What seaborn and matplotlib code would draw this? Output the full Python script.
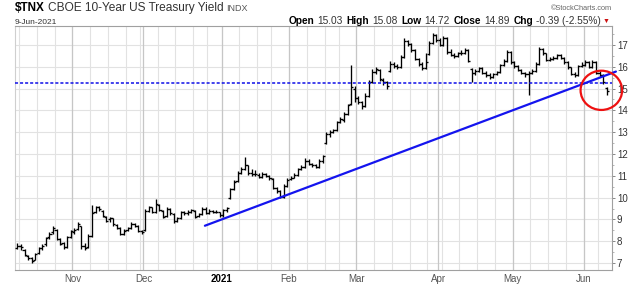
import numpy as np
import pandas as pd
import matplotlib
matplotlib.use("Agg")
import matplotlib.pyplot as plt
import seaborn as sns
from matplotlib.patches import Ellipse
from matplotlib.ticker import FixedLocator, MultipleLocator

# ---------------- data ----------------
holidays = ["2020-11-26", "2020-12-25", "2021-01-01", "2021-01-18",
            "2021-02-15", "2021-04-02", "2021-05-31"]
dates = pd.bdate_range("2020-10-09", "2021-06-09")
dates = dates[~dates.isin(pd.to_datetime(holidays))]

opens = [
    7.70, 7.78, 7.62, 7.33, 7.25, 7.15, 7.45, 7.70, 7.85, 8.18, 8.40, 8.50, 8.10, 7.90, 7.75, 8.20,
    8.40, 8.55, 8.70, 7.78, 7.75, 8.25, 9.35, 9.55, 9.40, 9.10, 9.00, 9.05, 8.75, 8.62, 8.35, 8.50, 8.60, 8.80, 8.70, 8.45,
    8.50, 9.40, 9.55, 9.35, 9.68, 9.40, 9.15, 9.48, 9.25, 8.95, 9.05, 9.35, 9.28, 9.35, 9.40, 9.15, 9.25, 9.50, 9.30, 9.40, 9.35, 9.32,
    9.18, 9.42, 9.98, 10.40, 10.75, 11.15, 11.30, 11.48, 11.15, 11.10, 11.05, 10.95, 11.10, 11.00, 10.85, 10.45, 10.30, 10.05, 10.55,
    10.85, 10.92, 11.05, 11.30, 11.40, 11.70, 11.55, 11.48, 11.42, 11.68, 12.50, 12.90, 13.00, 13.10, 13.45, 13.55, 13.85, 14.30, 15.00,
    14.55, 14.40, 14.20, 14.65, 15.30, 15.75, 15.85, 15.40, 15.30, 15.80, 16.15, 16.05, 16.00, 16.45, 17.20, 17.05, 16.75, 16.35, 16.12, 15.95, 16.60, 17.10, 17.45,
    17.22, 17.00, 17.30, 16.70, 16.55, 16.50, 16.62, 16.65, 16.75, 15.90, 15.70, 15.80, 15.95, 15.72, 15.62, 15.55, 15.65, 15.75, 16.10, 16.25, 16.68,
    16.20, 16.02, 15.85, 15.70, 15.65, 15.72, 15.80, 16.15, 16.80, 16.62, 16.30, 16.35, 16.38, 16.52, 16.40, 16.22, 15.98, 15.68, 15.62, 16.05,
    16.10, 16.22, 16.00, 16.22, 15.72, 15.62, 15.03,
]
highs = [
    7.90, 7.85, 7.65, 7.38, 7.28, 7.48, 7.72, 7.88, 8.20, 8.40, 8.70, 8.55, 8.15, 7.95, 8.22, 8.52,
    8.60, 8.90, 8.72, 7.90, 8.35, 9.65, 9.62, 9.60, 9.45, 9.15, 9.12, 9.08, 8.80, 8.65, 8.55, 8.65, 8.88, 8.85, 8.75, 8.50,
    9.48, 9.62, 9.58, 9.92, 9.72, 9.45, 9.55, 9.52, 9.28, 9.12, 9.40, 9.40, 9.42, 9.50, 9.45, 9.30, 9.58, 9.55, 9.48, 9.45, 9.42, 9.35,
    9.48, 9.58, 10.45, 10.80, 11.20, 11.40, 11.87, 11.50, 11.30, 11.25, 11.15, 11.18, 11.15, 11.05, 10.90, 10.50, 10.35, 10.62, 10.88,
    11.00, 11.15, 11.38, 11.48, 11.80, 11.75, 11.60, 11.55, 11.75, 11.95, 13.00, 13.08, 13.15, 13.50, 13.70, 13.92, 14.30, 16.10, 15.10,
    14.65, 14.45, 14.80, 15.40, 15.90, 16.00, 15.90, 15.50, 15.35, 16.25, 16.20, 16.15, 16.55, 17.30, 17.25, 17.10, 16.80, 16.40, 16.20, 16.65, 17.20, 17.55, 17.50,
    17.30, 17.40, 17.35, 16.80, 16.65, 16.70, 16.75, 16.85, 16.80, 15.95, 15.90, 16.00, 15.98, 15.80, 15.70, 15.72, 15.82, 16.15, 16.35, 16.75, 16.72,
    16.25, 16.08, 15.90, 15.75, 15.80, 15.88, 16.20, 16.90, 16.85, 16.65, 16.45, 16.48, 16.60, 16.58, 16.45, 16.25, 16.00, 15.78, 16.10, 16.20,
    16.30, 16.25, 16.30, 16.25, 15.80, 15.68, 15.08,
]
lows = [
    7.65, 7.62, 7.30, 7.15, 7.02, 7.12, 7.40, 7.62, 7.80, 8.12, 8.35, 8.05, 7.82, 7.65, 7.70, 8.15,
    8.35, 8.50, 7.65, 7.58, 7.70, 8.20, 9.30, 9.40, 9.10, 8.88, 8.90, 8.72, 8.55, 8.30, 8.30, 8.45, 8.55, 8.65, 8.42, 8.35,
    8.45, 9.35, 9.28, 9.30, 9.38, 9.05, 9.10, 9.22, 8.85, 8.90, 9.00, 9.20, 9.20, 9.30, 9.08, 9.10, 9.20, 9.25, 9.25, 9.30, 9.28, 9.12,
    9.10, 9.35, 9.95, 10.35, 10.70, 11.08, 11.25, 11.05, 11.00, 11.00, 10.88, 10.90, 10.95, 10.80, 10.40, 10.20, 10.00, 10.00, 10.50,
    10.80, 10.88, 11.00, 11.25, 11.35, 11.50, 11.40, 11.38, 11.38, 11.60, 12.45, 12.80, 12.95, 13.05, 13.40, 13.45, 13.80, 14.25, 14.40,
    14.30, 14.05, 14.15, 14.60, 15.25, 15.65, 15.35, 15.15, 15.00, 15.75, 15.95, 15.90, 15.95, 16.40, 16.95, 16.70, 16.30, 16.05, 15.85, 15.90, 16.55, 17.05, 17.15,
    16.95, 16.95, 16.60, 16.50, 16.40, 16.45, 16.55, 16.60, 16.20, 15.28, 15.60, 15.75, 15.65, 15.55, 15.45, 15.50, 15.60, 15.70, 16.05, 16.20, 16.15,
    15.95, 15.80, 15.65, 15.55, 14.72, 15.68, 15.75, 16.10, 16.55, 16.25, 16.25, 16.30, 16.35, 16.35, 16.15, 15.92, 15.60, 15.55, 15.58, 15.98,
    16.05, 15.95, 15.95, 15.65, 15.55, 15.22, 14.72,
]
closes = [
    7.78, 7.72, 7.35, 7.22, 7.10, 7.42, 7.68, 7.80, 8.15, 8.32, 8.62, 8.10, 7.88, 7.72, 8.18, 8.45,
    8.52, 8.80, 7.78, 7.70, 8.25, 9.30, 9.55, 9.48, 9.15, 8.95, 9.05, 8.78, 8.62, 8.35, 8.48, 8.60, 8.80, 8.72, 8.48, 8.42,
    9.40, 9.55, 9.35, 9.70, 9.42, 9.12, 9.50, 9.28, 8.92, 9.05, 9.35, 9.28, 9.35, 9.42, 9.12, 9.25, 9.50, 9.30, 9.40, 9.35, 9.35, 9.18,
    9.42, 9.52, 10.40, 10.72, 11.15, 11.30, 11.50, 11.15, 11.10, 11.08, 10.95, 11.10, 11.00, 10.88, 10.45, 10.30, 10.05, 10.55, 10.80,
    10.92, 11.05, 11.30, 11.40, 11.70, 11.55, 11.48, 11.42, 11.68, 11.90, 12.90, 13.00, 13.10, 13.45, 13.60, 13.85, 14.25, 15.05, 14.55,
    14.40, 14.20, 14.65, 15.30, 15.75, 15.88, 15.42, 15.28, 15.10, 16.15, 16.05, 16.00, 16.45, 17.20, 17.05, 16.75, 16.35, 16.12, 15.95, 16.20, 17.10, 17.45, 17.22,
    17.00, 17.30, 16.70, 16.55, 16.50, 16.62, 16.65, 16.75, 16.25, 15.70, 15.80, 15.95, 15.72, 15.62, 15.55, 15.65, 15.75, 16.10, 16.25, 16.68, 16.20,
    16.02, 15.85, 15.70, 15.65, 15.72, 15.80, 16.15, 16.80, 16.62, 16.30, 16.35, 16.38, 16.52, 16.40, 16.22, 15.98, 15.68, 15.62, 16.05, 16.10,
    16.22, 16.00, 16.22, 15.72, 15.62, 15.28, 14.89,
]

month_labels = ["Nov", "Dec", "2021", "Feb", "Mar", "Apr", "May", "Jun"]
y_ticks = [7, 8, 9, 10, 11, 12, 13, 14, 15, 16, 17]

resistance_level = 15.27
trend_x = [52.8, 168.6]      # bar positions
trend_y = [8.71, 15.78]

header_title = ["$TNX", "CBOE 10-Year US Treasury Yield", "INDX"]
header_date = "9-Jun-2021"
header_stats = [("Open", "15.03"), ("High", "15.08"), ("Low", "14.72"),
                ("Close", "14.89"), ("Chg", "-0.39 (-2.55%)")]
watermark = "\u00a9StockCharts.com"

# ---------------- style ----------------
sns.set_style("white")
plt.rcParams["font.family"] = ["Liberation Sans", "DejaVu Sans"]

W, H = 640, 285
fig = plt.figure(figsize=(W / 100, H / 100), dpi=100)
L, R, T, B = 15, 612, 26, 270
ax = fig.add_axes([L / W, 1 - B / H, (R - L) / W, (B - T) / H])

n = len(closes)
x = np.arange(n)
df = pd.DataFrame({"x": x, "open": opens, "high": highs, "low": lows, "close": closes})

ax.set_xlim(-0.7, 167.5)
ax.set_ylim(6.68, 17.87)

# grid
week_id = dates[:n].isocalendar().week.values
month_id = dates[:n].month.values
week_starts = [i for i in range(1, n) if week_id[i] != week_id[i - 1]]
month_starts = [i for i in range(1, n) if month_id[i] != month_id[i - 1]]
for yv in y_ticks:
    ax.axhline(yv, color="#e2e2e2", lw=0.8, zorder=0)
for wi in week_starts:
    ax.axvline(wi - 0.5, color="#e2e2e2", lw=0.8, zorder=0)
for mi in month_starts:
    ax.axvline(mi - 0.5, color="#c6c6c6", lw=0.9, zorder=0.5)

# OHLC bars
lo = np.minimum.reduce([df["low"], df["open"], df["close"]])
hi = np.maximum.reduce([df["high"], df["open"], df["close"]])
ax.vlines(df["x"], lo, hi, color="black", lw=0.95, zorder=3)
ax.hlines(df["open"], df["x"] - 0.6, df["x"], color="black", lw=0.95, zorder=3)
ax.hlines(df["close"], df["x"], df["x"] + 0.6, color="black", lw=0.95, zorder=3)

# horizontal dashed level
ax.axhline(resistance_level, color="#1010e8", lw=1.1, ls=(0, (2.0, 1.3)), zorder=4)

# trendline via seaborn
sns.lineplot(x=trend_x, y=trend_y, ax=ax, color="#1414ee", lw=1.6, zorder=4,
             clip_on=False, legend=False)

# red circle
circ = Ellipse((164.5, 14.92), width=11.7, height=1.80, fill=False,
               edgecolor="#ee1111", lw=1.6, zorder=5, clip_on=False)
ax.add_patch(circ)

# axes styling
for s in ["top", "right", "bottom"]:
    ax.spines[s].set_color("#a0a0a0")
    ax.spines[s].set_linewidth(0.8)
ax.spines["left"].set_color("#cfcfcf")
ax.spines["left"].set_linewidth(0.8)

ax.yaxis.tick_right()
ax.set_yticks(y_ticks)
ax.set_yticklabels([str(v) for v in y_ticks])
ax.yaxis.set_minor_locator(MultipleLocator(0.5))
ax.tick_params(axis="y", which="major", length=2, width=0.7, color="#888888",
               labelsize=7, labelcolor="#333333", pad=1.5)
ax.tick_params(axis="y", which="minor", length=1.2, width=0.5, color="#999999")

ax.set_xticks([m - 0.5 for m in month_starts])
ax.set_xticklabels(month_labels)
ax.xaxis.set_minor_locator(FixedLocator(list(x)))
ax.tick_params(axis="x", which="major", length=2, width=0.6, color="#999999",
               labelsize=7, labelcolor="#555555", pad=1.0)
ax.tick_params(axis="x", which="minor", length=1.5, width=0.5, color="#aaaaaa")
for lab in ax.get_xticklabels():
    if lab.get_text() == "2021":
        lab.set_fontweight("bold")
        lab.set_color("black")
ax.set_xlabel("")
ax.set_ylabel("")

# ---------------- header ----------------
renderer = fig.canvas.get_renderer()


def put(s, px, baseline, **kw):
    t = fig.text(px / W, 1 - baseline / H, s, ha="left", va="baseline", **kw)
    return t, t.get_window_extent(renderer=renderer).width


t, w = put(header_title[0], 15, 11, fontsize=8.5, fontweight="bold", color="black")
t, w2 = put(header_title[1], 15 + w + 3, 11, fontsize=8.6, color="#333333")
put(header_title[2], 15 + w + 3 + w2 + 3, 11, fontsize=6.5, color="#555555")

put(header_date, 15, 23.5, fontsize=6.0, color="#333333")

# stats line, right aligned at 601
items = []
for k, v in header_stats:
    items.append((k, dict(fontsize=7.3, fontweight="bold", color="black")))
    items.append((v, dict(fontsize=7.3, color="#333333")))
widths = []
tmp = []
for s, kw in items:
    tt, ww = put(s, 0, 23.5, **kw)
    tmp.append(tt)
    widths.append(ww)
gaps = []
for i in range(len(items)):
    gaps.append(2.5 if i % 2 == 0 else 4.5)
total = sum(widths) + sum(gaps[:-1])
xpos = 601 - total
for tt, ww, g in zip(tmp, widths, gaps):
    tt.set_x(xpos / W)
    xpos += ww + g
put("\u25bc", 603, 22.5, fontsize=5, color="#cc1111")

wm = fig.text(612 / W, 1 - 10 / H, watermark, ha="right", va="baseline",
              fontsize=5.3, color="#666666")

fig.savefig("out.png", dpi=100)
